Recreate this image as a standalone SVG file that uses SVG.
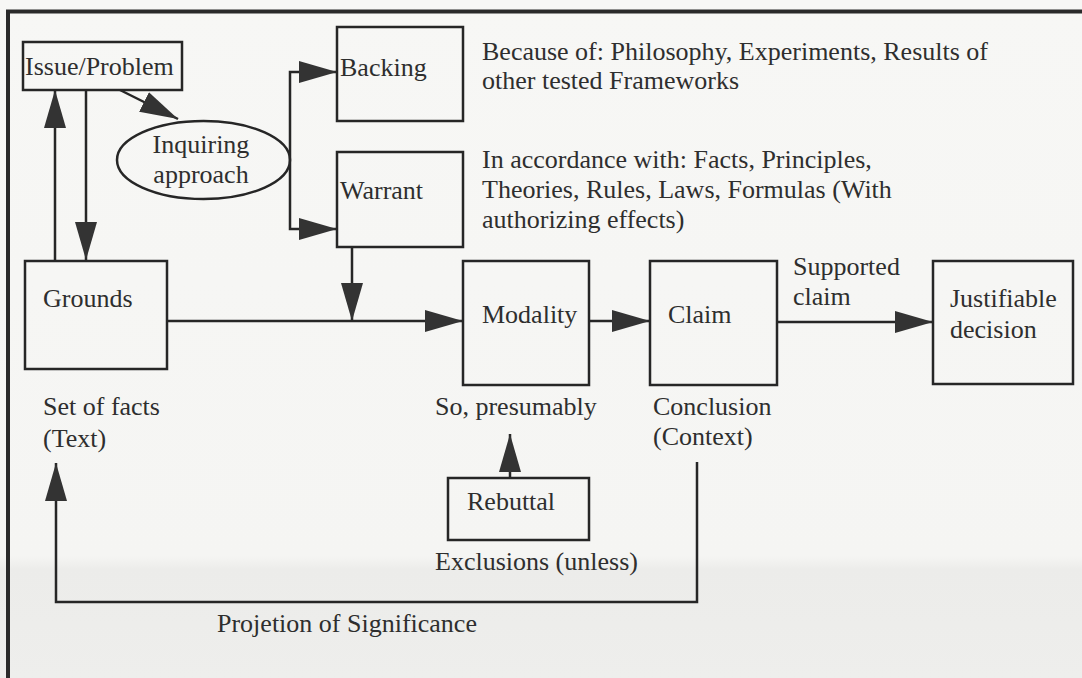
<svg xmlns="http://www.w3.org/2000/svg" width="1082" height="678" viewBox="0 0 1082 678">
  <defs>
    <marker id="arr" markerUnits="userSpaceOnUse" markerWidth="40" markerHeight="24" refX="38" refY="11" orient="auto">
      <path d="M0,0 L38,11 L0,22 Z" fill="#333"/>
    </marker>
    <linearGradient id="bg" x1="0" y1="0" x2="0" y2="1">
      <stop offset="0" stop-color="#f7f7f5"/>
      <stop offset="0.82" stop-color="#f5f5f3"/>
      <stop offset="0.84" stop-color="#ececea"/>
      <stop offset="1" stop-color="#eeeeec"/>
    </linearGradient>
    <style>
      .box { fill: none; stroke: #262626; stroke-width: 2.5; }
      .ln { fill: none; stroke: #262626; stroke-width: 2.5; }
      text { font-family: "Liberation Serif", "Times New Roman", serif; font-size: 26px; fill: #2e2e2e; }
    </style>
  </defs>

  <rect x="0" y="0" width="1082" height="678" fill="url(#bg)"/>
  <!-- frame -->
  <g id="frame">
    <line x1="6" y1="11.5" x2="1082" y2="11.5" stroke="#2a2a2a" stroke-width="4"/>
    <line x1="8" y1="10" x2="8" y2="678" stroke="#2a2a2a" stroke-width="4"/>
  </g>

  <g id="connectors">
    <line class="ln" x1="120" y1="90" x2="178" y2="119" marker-end="url(#arr)"/>
    <line class="ln" x1="55" y1="261" x2="55" y2="90" marker-end="url(#arr)"/>
    <line class="ln" x1="86" y1="90" x2="86" y2="260" marker-end="url(#arr)"/>
    <path class="ln" d="M290,160 V72 H337" marker-end="url(#arr)"/>
    <path class="ln" d="M290,160 V229 H337" marker-end="url(#arr)"/>
    <line class="ln" x1="352" y1="247" x2="352" y2="321" marker-end="url(#arr)"/>
    <line class="ln" x1="167" y1="321" x2="463" y2="321" marker-end="url(#arr)"/>
    <line class="ln" x1="589" y1="321" x2="650" y2="321" marker-end="url(#arr)"/>
    <line class="ln" x1="777" y1="322" x2="933" y2="322" marker-end="url(#arr)"/>
    <line class="ln" x1="510" y1="478" x2="510" y2="434" marker-end="url(#arr)"/>
    <path class="ln" d="M697,462 V602 H56 V463" marker-end="url(#arr)"/>
  </g>

  <g id="issue">
    <rect class="box" x="23" y="42" width="159" height="48"/>
    <text x="25" y="75">Issue/Problem</text>
  </g>
  <g id="inquiring">
    <ellipse class="box" cx="203.5" cy="160" rx="86.5" ry="39"/>
    <text x="201" y="153" text-anchor="middle">Inquiring</text>
    <text x="201" y="183" text-anchor="middle">approach</text>
  </g>
  <g id="backing">
    <rect class="box" x="337" y="27" width="126" height="94"/>
    <text x="340" y="76">Backing</text>
    <text x="482" y="60">Because of: Philosophy, Experiments, Results of</text>
    <text x="482" y="89">other tested Frameworks</text>
  </g>
  <g id="warrant">
    <rect class="box" x="337" y="152" width="126" height="95"/>
    <text x="340" y="199">Warrant</text>
    <text x="482" y="168">In accordance with: Facts, Principles,</text>
    <text x="482" y="198">Theories, Rules, Laws, Formulas (With</text>
    <text x="482" y="228">authorizing effects)</text>
  </g>
  <g id="grounds">
    <rect class="box" x="25" y="261" width="142" height="108"/>
    <text x="43" y="307">Grounds</text>
    <text x="43" y="415">Set of facts</text>
    <text x="43" y="447">(Text)</text>
  </g>
  <g id="modality">
    <rect class="box" x="463" y="261" width="126" height="124"/>
    <text x="482" y="323">Modality</text>
    <text x="435" y="415">So, presumably</text>
  </g>
  <g id="claim">
    <rect class="box" x="650" y="261" width="127" height="124"/>
    <text x="668" y="323">Claim</text>
    <text x="653" y="415">Conclusion</text>
    <text x="653" y="445">(Context)</text>
  </g>
  <g id="supported-label">
    <text x="793" y="275">Supported</text>
    <text x="793" y="305">claim</text>
  </g>
  <g id="justifiable">
    <rect class="box" x="933" y="261" width="140" height="123"/>
    <text x="950" y="307">Justifiable</text>
    <text x="950" y="338">decision</text>
  </g>
  <g id="rebuttal">
    <rect class="box" x="448" y="478" width="141" height="62"/>
    <text x="467" y="510">Rebuttal</text>
    <text x="435" y="570">Exclusions (unless)</text>
  </g>
  <g id="projection-label">
    <text x="217" y="632">Projetion of Significance</text>
  </g>
</svg>
